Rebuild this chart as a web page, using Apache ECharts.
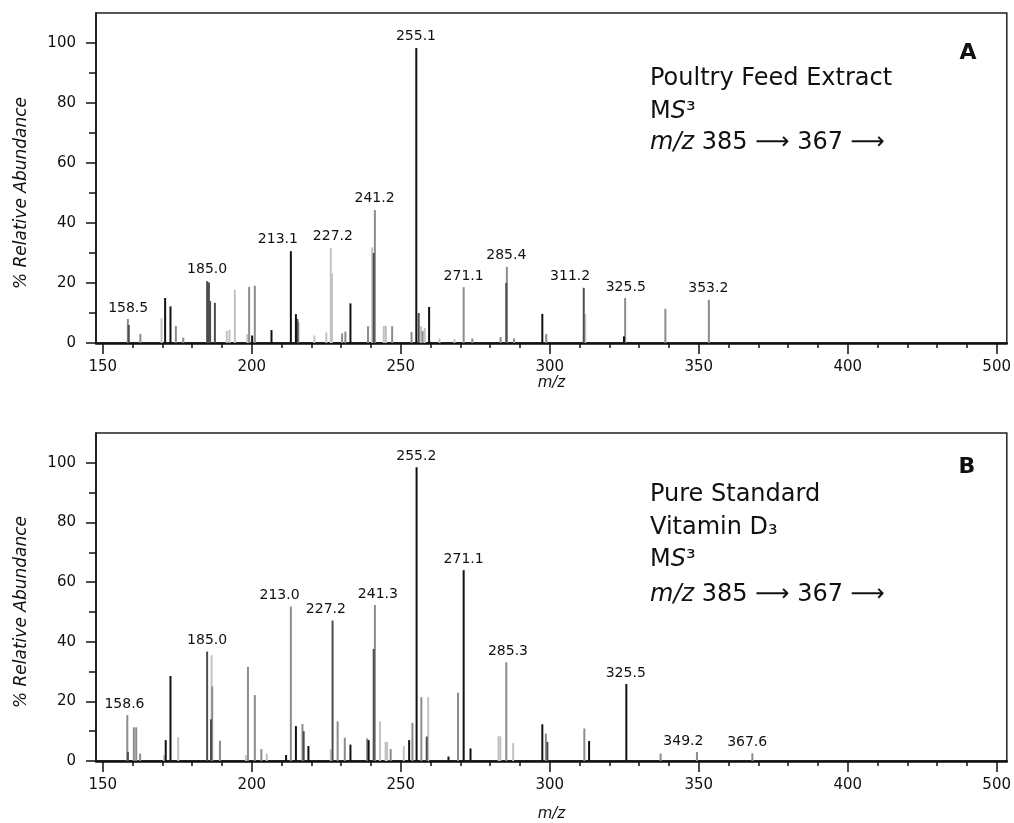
<!DOCTYPE html>
<html>
<head>
<meta charset="utf-8">
<script src="https://cdn.jsdelivr.net/npm/echarts@6/dist/echarts.min.js"></script>
<style>
  html, body { margin: 0; background: #fff; }
  #chart { width: 1014px; height: 823px; }
</style>
</head>
<body>
<div id="chart"></div>
<script>
// Panel A - poultry feed extract, MS3 peaks as [m/z, % relative abundance], split by shade
const blackA = [[170.9, 15], [172.7, 12.2], [200.1, 2.5], [206.6, 4.3], [213.1, 30.6], [214.8, 9.6],
  [233.1, 13.2], [255.2, 98.3], [259.5, 12], [297.5, 9.7], [324.9, 2.2]];
const darkA = [[158.7, 6], [185.0, 20.6], [185.6, 20.2], [186.0, 14], [187.6, 13.4], [215.3, 8],
  [240.9, 30], [256.0, 10], [285.4, 20], [311.4, 18.4]];
const grayA = [[158.4, 8], [162.6, 3], [174.5, 5.7], [177.0, 1.8], [199.1, 18.7], [201.0, 19.1],
  [215.6, 7], [230.3, 3.2], [231.4, 3.8], [239.0, 5.6], [241.3, 44.3], [247.1, 5.6], [253.6, 3.7],
  [257.3, 4], [271.1, 18.6], [274.0, 1.5], [283.5, 2], [285.6, 25.4], [288.0, 1.5], [298.8, 3],
  [325.3, 15], [338.8, 11.4], [353.4, 14.4]];
const lightA = [[169.7, 8.2], [191.6, 4], [192.5, 4.4], [194.3, 17.7], [198.5, 3], [221.0, 2.5],
  [225.0, 3.5], [226.5, 31.6], [226.9, 23.2], [240.4, 31.9], [244.3, 5.7], [245.0, 5.7],
  [256.8, 5.6], [258.0, 5], [263.0, 1.5], [268.0, 1.2], [311.9, 9.7]];
const labelPeaksA = [[158.5, 8], [185.0, 21], [213.1, 31], [227.2, 32], [241.2, 44.5], [255.1, 98.5],
  [271.1, 18.6], [285.4, 25.5], [311.2, 18.6], [325.5, 15], [353.2, 14.4]];

// Panel B - pure vitamin D3 standard
const blackB = [[171.1, 7], [172.7, 28.5], [211.5, 2], [214.8, 11.7], [219.0, 5], [233.1, 5.5],
  [239.2, 7], [252.8, 7], [255.3, 98.5], [266.0, 1.5], [271.1, 64], [273.4, 4.2], [297.5, 12.3],
  [313.2, 6.7], [325.7, 25.8]];
const darkB = [[158.4, 3], [185.0, 36.7], [186.3, 14], [217.4, 10], [227.1, 47.1], [240.9, 37.6],
  [258.7, 8.2], [299.2, 6.4]];
const grayB = [[158.2, 15.4], [160.4, 11.3], [161.2, 11.3], [162.5, 2.5], [186.7, 25], [189.3, 6.8],
  [198.7, 31.6], [201.0, 22.1], [203.2, 4], [213.1, 51.8], [217.0, 12.4], [228.8, 13.3], [231.2, 7.8],
  [238.7, 7.6], [241.3, 52.3], [246.6, 4], [253.9, 12.8], [256.9, 21.4], [269.2, 22.9], [285.4, 33.1],
  [298.7, 9.2], [311.6, 10.9], [337.2, 2.5], [349.4, 3], [368.0, 2.6]];
const lightB = [[170.5, 2], [175.3, 8], [186.5, 35.5], [198.0, 2], [205.0, 2.5], [226.5, 4],
  [243.0, 13.3], [244.9, 6.4], [245.4, 6.4], [251.0, 5], [259.2, 21.4], [282.8, 8.3], [283.4, 8.3],
  [287.7, 6]];
const labelPeaksB = [[158.6, 15.4], [185.0, 36.7], [213.0, 51.8], [227.2, 47.1], [241.3, 52.3],
  [255.2, 98.5], [271.1, 64], [285.3, 33.1], [325.5, 25.8], [349.2, 3], [367.6, 2.6]];

// axis ticks (the original figure labels its last tick "500")
const xMajorTicks = [150, 200, 250, 300, 350, 400, 450];
const xTickLabels = ['150', '200', '250', '300', '350', '400', '500'];
const yMajorTicks = [0, 20, 40, 60, 80, 100];
const yMinorTicks = [10, 30, 50, 70, 90];
const xMinorTicks = [];
for (let v = 160; v < 450; v += 10) if (v % 50 !== 0) xMinorTicks.push(v);

// small horizontal nudges for labels that sit off-centre in the original
const labelShiftA = { '213.1': -13, '311.2': -13 };
const labelShiftB = { '158.6': -4, '213.0': -11, '227.2': -7, '241.3': 3, '285.3': 2, '349.2': -13, '367.6': -4 };

const FONT = 'DejaVu Sans';
const INK = '#111';
const shades = { black: '#111111', dark: '#4d4d4d', gray: '#8c8c8c', light: '#c2c2c2' };

const chart = echarts.init(document.getElementById('chart'));

function stickSeries(data, color, gi) {
  return {
    type: 'custom',
    xAxisIndex: gi * 2,
    yAxisIndex: gi * 2,
    data: data,
    silent: true,
    renderItem: (params, api) => {
      const base = api.coord([api.value(0), 0]);
      const top = api.coord([api.value(0), api.value(1)]);
      return {
        type: 'line',
        shape: { x1: base[0], y1: base[1], x2: top[0], y2: top[1] },
        style: { stroke: color, lineWidth: 2 }
      };
    }
  };
}

function labelSeries(data, shift, gi) {
  return {
    type: 'custom',
    xAxisIndex: gi * 2,
    yAxisIndex: gi * 2,
    data: data,
    silent: true,
    renderItem: (params, api) => {
      const txt = api.value(0).toFixed(1);
      const p = api.coord([api.value(0), api.value(1)]);
      return {
        type: 'text',
        x: p[0] + (shift[txt] || 0),
        y: p[1] - 4,
        style: {
          text: txt, fill: INK, font: '14px "' + FONT + '"',
          align: 'center', verticalAlign: 'bottom'
        }
      };
    }
  };
}

function xAxes(gi, nameGap) {
  return [{
    gridIndex: gi, type: 'value', min: 147.7, max: 453.4,
    name: 'm/z', nameLocation: 'middle', nameGap: nameGap,
    nameTextStyle: { fontFamily: FONT, fontStyle: 'italic', fontSize: 15, color: INK },
    axisLine: { lineStyle: { color: INK, width: 2.5 } },
    axisTick: { customValues: xMajorTicks, length: 11, lineStyle: { color: INK, width: 1.5 } },
    axisLabel: {
      customValues: xMajorTicks, margin: 17, fontFamily: FONT, fontSize: 15, color: INK,
      formatter: v => xTickLabels[xMajorTicks.indexOf(v)]
    },
    splitLine: { show: false }
  }, {
    gridIndex: gi, type: 'value', min: 147.7, max: 453.4, position: 'bottom',
    axisLine: { show: false },
    axisTick: { customValues: xMinorTicks, length: 5, lineStyle: { color: INK, width: 1.5 } },
    axisLabel: { show: false },
    splitLine: { show: false }
  }];
}

function yAxes(gi) {
  return [{
    gridIndex: gi, type: 'value', min: 0, max: 110,
    axisLine: { show: true, lineStyle: { color: INK, width: 1.5 } },
    axisTick: { show: true, customValues: yMajorTicks, length: 10, lineStyle: { color: INK, width: 1.5 } },
    axisLabel: { customValues: yMajorTicks, margin: 20, fontFamily: FONT, fontSize: 15, color: INK },
    splitLine: { show: false }
  }, {
    gridIndex: gi, type: 'value', min: 0, max: 110, position: 'left',
    axisLine: { show: false },
    axisTick: { show: true, customValues: yMinorTicks, length: 7, lineStyle: { color: INK, width: 1.5 } },
    axisLabel: { show: false },
    splitLine: { show: false }
  }];
}

function note(x, y, text, rich) {
  return {
    type: 'text', x: x, y: y,
    style: {
      text: text, fill: INK, font: '24px "' + FONT + '"',
      verticalAlign: 'middle', rich: rich
    }
  };
}

const richNote = {
  i: { fontFamily: FONT, fontSize: 24, fontStyle: 'italic', fill: INK }
};

const option = {
  backgroundColor: '#fff',
  animation: false,
  grid: [
    { left: 96, right: 7, top: 13, height: 330, show: true, borderColor: '#222', borderWidth: 1.5 },
    { left: 96, right: 6, top: 433, height: 328, show: true, borderColor: '#222', borderWidth: 1.5 }
  ],
  xAxis: [...xAxes(0, 31), ...xAxes(1, 46)],
  yAxis: [...yAxes(0), ...yAxes(1)],
  series: [
    stickSeries(lightA, shades.light, 0),
    stickSeries(grayA, shades.gray, 0),
    stickSeries(darkA, shades.dark, 0),
    stickSeries(blackA, shades.black, 0),
    labelSeries(labelPeaksA, labelShiftA, 0),
    stickSeries(lightB, shades.light, 1),
    stickSeries(grayB, shades.gray, 1),
    stickSeries(darkB, shades.dark, 1),
    stickSeries(blackB, shades.black, 1),
    labelSeries(labelPeaksB, labelShiftB, 1)
  ],
  graphic: [
    {
      type: 'text', x: 22, y: 193, rotation: Math.PI / 2,
      style: { text: '% Relative Abundance', fill: INK, font: 'italic 17px "' + FONT + '"', align: 'center', verticalAlign: 'middle' }
    },
    {
      type: 'text', x: 22, y: 612, rotation: Math.PI / 2,
      style: { text: '% Relative Abundance', fill: INK, font: 'italic 17px "' + FONT + '"', align: 'center', verticalAlign: 'middle' }
    },
    { type: 'text', x: 968, y: 53, style: { text: 'A', fill: INK, font: 'bold 22px "' + FONT + '"', align: 'center', verticalAlign: 'middle' } },
    { type: 'text', x: 967, y: 467, style: { text: 'B', fill: INK, font: 'bold 22px "' + FONT + '"', align: 'center', verticalAlign: 'middle' } },
    note(650, 79, 'Poultry Feed Extract', richNote),
    note(650, 112, 'M{i|S}³', richNote),
    note(650, 143, '{i|m/z} 385 ⟶ 367 ⟶', richNote),
    note(650, 495, 'Pure Standard', richNote),
    note(650, 528, 'Vitamin D₃', richNote),
    note(650, 560, 'M{i|S}³', richNote),
    note(650, 595, '{i|m/z} 385 ⟶ 367 ⟶', richNote)
  ]
};

chart.setOption(option);
</script>
</body>
</html>
